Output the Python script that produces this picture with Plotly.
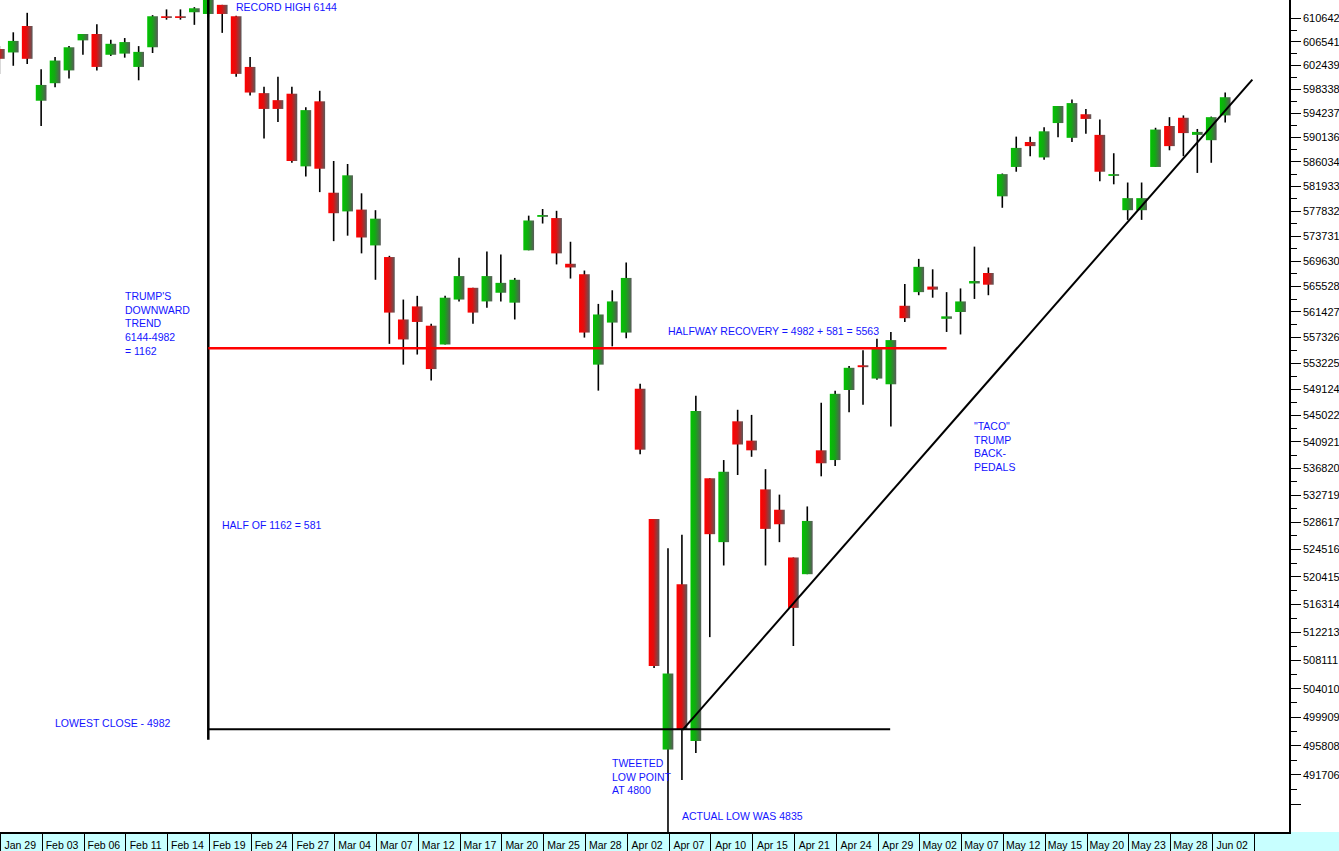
import math
import plotly.graph_objects as go

# ---------------- data ----------------
dates = ["Jan 29","Jan 30","Jan 31","Feb 03","Feb 04","Feb 05","Feb 06","Feb 07","Feb 10","Feb 11",
         "Feb 12","Feb 13","Feb 14","Feb 17","Feb 18","Feb 19","Feb 20","Feb 21","Feb 24","Feb 25",
         "Feb 26","Feb 27","Feb 28","Mar 03","Mar 04","Mar 05","Mar 06","Mar 07","Mar 10","Mar 11",
         "Mar 12","Mar 13","Mar 14","Mar 17","Mar 18","Mar 19","Mar 20","Mar 21","Mar 24","Mar 25",
         "Mar 26","Mar 27","Mar 28","Mar 31","Apr 01","Apr 02","Apr 03","Apr 04","Apr 07","Apr 08",
         "Apr 09","Apr 10","Apr 11","Apr 14","Apr 15","Apr 16","Apr 17","Apr 21","Apr 22","Apr 23",
         "Apr 24","Apr 25","Apr 28","Apr 29","Apr 30","May 01","May 02","May 05","May 06","May 07",
         "May 08","May 09","May 12","May 13","May 14","May 15","May 16","May 19","May 20","May 21",
         "May 22","May 23","May 26","May 27","May 28","May 29","May 30","Jun 02","Jun 03"]

opens = [6053,6047,6093,5964,5994,6016,6068,6079,6043,6045,
         6022,6056,6110,6110,6117,6114,6130,6110,6022,5977,
         5965,5976,5853,5963,5809,5778,5781,5722,5703,5602,
         5623,5592,5562,5634,5653,5631,5645,5629,5714,5769,
         5767,5692,5675,5530,5597,5581,5492,5291,4953,5193,
         4965,5353,5256,5441,5411,5336,5305,5233,5208,5396,
         5381,5490,5529,5508,5499,5624,5646,5655,5603,5614,
         5660,5677,5803,5852,5894,5868,5926,5901,5941,5906,
         5837,5780,5780,5852,5921,5935,5906,5897,5939]
highs = [6058,6082,6116,6018,6039,6058,6079,6096,6069,6072,
         6058,6112,6122,6122,6126,6147,6130,6111,6039,5988,
         6005,5988,5953,5981,5862,5857,5808,5780,5705,5634,
         5640,5595,5640,5702,5653,5712,5707,5669,5771,5782,
         5779,5728,5681,5627,5649,5694,5500,5291,5247,5267,
         5481,5353,5381,5459,5451,5367,5328,5233,5310,5470,
         5489,5528,5553,5571,5582,5659,5700,5683,5646,5652,
         5720,5686,5841,5903,5903,5919,5955,5966,5950,5932,
         5875,5826,5826,5918,5936,5939,5916,5937,5978]
lows = [6010,6024,6027,5921,5987,6002,6043,6016,6041,6038,
        5999,6046,6104,6104,6095,6108,6081,6005,5973,5900,
        5928,5859,5836,5810,5729,5738,5709,5666,5563,5530,
        5546,5505,5562,5631,5595,5621,5631,5602,5714,5758,
        5691,5668,5573,5489,5559,5572,5390,5070,4835,4910,
        4948,5115,5221,5358,5386,5221,5256,5102,5208,5356,
        5372,5455,5467,5506,5433,5598,5641,5637,5582,5578,
        5635,5641,5784,5844,5870,5864,5902,5894,5908,5828,
        5823,5764,5764,5852,5880,5870,5842,5859,5927]
closes = [6036,6067,6036,5991,6033,6056,6079,6022,6062,6065,
          6048,6110,6107,6107,6124,6144,6114,6010,5978,5950,
          5950,5862,5948,5849,5775,5838,5735,5766,5613,5570,
          5598,5523,5637,5672,5613,5672,5661,5666,5763,5772,
          5709,5686,5581,5610,5631,5669,5397,5073,5062,4982,
          5457,5268,5363,5405,5396,5276,5283,5158,5288,5376,
          5484,5525,5526,5558,5569,5604,5687,5650,5607,5631,
          5664,5658,5840,5884,5887,5912,5955,5960,5933,5844,
          5840,5800,5800,5915,5887,5909,5911,5936,5970]

y_tick_text = ["610642","606541","602439","598338","594237","590136","586034","581933",
               "577832","573731","569630","565528","561427","557326","553225","549124",
               "545022","540921","536820","532719","528617","524516","520415","516314",
               "512213","508111","504010","499909","495808","491706"]
y_extra_tick = 4876.05          # unlabeled tick below the last label

record_high_idx = 15            # Feb 19 record high 6144
vline_bottom = 4967
lowest_close = 4982
lowest_close_end_idx = 63.95
halfway_level = 5556            # drawn "halfway recovery" line
halfway_end_idx = 68.0
trend_x = [49.05, 89.95]
trend_y = [4981, 6000]

# ---------------- layout constants ----------------
W, H = 1339, 851
PLOT_W, PLOT_H = 1289, 832
X0_PX, PITCH = -0.65, 13.93           # pixel of bar 0 centre, pixel per bar
P_REF, Y_REF, K = 6106.42, 18.3, 3493.0
p_top = P_REF * math.exp(Y_REF / K)
p_bot = P_REF * math.exp(-(PLOT_H - Y_REF) / K)
x_lo = (0 - X0_PX) / PITCH
x_hi = (PLOT_W - X0_PX) / PITCH
HW = 0.385

FONT = "Liberation Sans, Arial, Helvetica, sans-serif"
TXT = "#1414ff"

n = len(dates)
xs = list(range(n))

fig = go.Figure()

# wicks
wx, wy = [], []
for i in xs:
    wx += [i, i, None]
    wy += [lows[i], highs[i], None]
fig.add_trace(go.Scatter(x=wx, y=wy, mode="lines", line=dict(color="black", width=1.6),
                         hoverinfo="skip", showlegend=False))

green_scale = [[0, "#00c400"], [0.45, "#14a814"], [1, "#5a5a5a"]]
red_scale = [[0, "#ff0000"], [0.45, "#e01010"], [1, "#5a5a5a"]]
for i in xs:
    o, c = opens[i], closes[i]
    lo, hi = min(o, c), max(o, c)
    up = c >= o
    fig.add_trace(go.Scatter(
        x=[i - HW, i + HW, i + HW, i - HW, i - HW],
        y=[lo, lo, hi, hi, lo],
        mode="lines", line=dict(width=0), fill="toself",
        fillgradient=dict(type="horizontal", colorscale=green_scale if up else red_scale),
        hoverinfo="skip", showlegend=False))

# annotation lines
fig.add_trace(go.Scatter(x=[record_high_idx, record_high_idx], y=[vline_bottom, p_top * 1.02],
                         mode="lines", line=dict(color="black", width=2.5),
                         hoverinfo="skip", showlegend=False))
fig.add_trace(go.Scatter(x=[record_high_idx, lowest_close_end_idx], y=[lowest_close, lowest_close],
                         mode="lines", line=dict(color="black", width=2),
                         hoverinfo="skip", showlegend=False))
fig.add_trace(go.Scatter(x=[record_high_idx, halfway_end_idx], y=[halfway_level, halfway_level],
                         mode="lines", line=dict(color="#ff0000", width=2.5),
                         hoverinfo="skip", showlegend=False))
fig.add_trace(go.Scatter(x=trend_x, y=trend_y, mode="lines", line=dict(color="black", width=2),
                         hoverinfo="skip", showlegend=False))

# text annotations (pixel positions -> paper coords)
def ann(text, px, py, size=10.5):
    fig.add_annotation(text=text, x=(px - 2) / PLOT_W, y=1 - py / PLOT_H,
                       xref="paper", yref="paper", xanchor="left", yanchor="middle",
                       align="left", showarrow=False,
                       font=dict(family=FONT, size=size, color=TXT))

ann("RECORD HIGH 6144", 236, 7)
ann("TRUMP'S<br>DOWNWARD<br>TREND<br>6144-4982<br>= 1162", 125, 323)
ann("HALF OF 1162 = 581", 222, 525)
ann("LOWEST CLOSE - 4982", 55, 723)
ann("HALFWAY RECOVERY = 4982 + 581 = 5563", 668, 331)
ann("TWEETED<br>LOW POINT<br>AT 4800", 612, 776)
ann("ACTUAL LOW WAS 4835", 682, 816)
ann("\"TACO\"<br>TRUMP<br>BACK-<br>PEDALS", 974, 446)

# bottom date strip background
fig.add_shape(type="rect", xref="paper", yref="paper", x0=0, x1=W / PLOT_W,
              y0=-(H - PLOT_H) / PLOT_H, y1=0, fillcolor="#c8ffff",
              line=dict(width=0), layer="below")

# axes ticks
label_idx = list(range(0, n, 3))
x_labels = [dates[i] for i in label_idx]
y_major_vals = [int(t) / 100 for t in y_tick_text] + [y_extra_tick]
y_major_text = y_tick_text + [""]
sorted_major = sorted(y_major_vals)
y_minor_vals = [(a + b) / 2 for a, b in zip(sorted_major[:-1], sorted_major[1:])]

fig.update_layout(
    width=W, height=H,
    margin=dict(l=0, r=W - PLOT_W, t=0, b=H - PLOT_H),
    paper_bgcolor="white", plot_bgcolor="white",
    showlegend=False,
    font=dict(family=FONT, color="black"),
    xaxis=dict(
        range=[x_lo, x_hi], showgrid=False, zeroline=False,
        showline=True, linecolor="black", linewidth=2,
        tickmode="array", tickvals=[i + 1.5 for i in label_idx], ticktext=x_labels,
        ticks="", tickfont=dict(family=FONT, size=10.5, color="black"),
        ticklabelstandoff=2,
        minor=dict(tickmode="array", tickvals=[i + 0.08 for i in label_idx] + [label_idx[-1] + 3.08],
                   ticks="outside", ticklen=H - PLOT_H, tickwidth=1, tickcolor="black",
                   showgrid=False),
        fixedrange=True,
    ),
    yaxis=dict(
        type="log", side="right",
        range=[math.log10(p_bot), math.log10(p_top)],
        showgrid=False, zeroline=False,
        showline=True, linecolor="black", linewidth=1.5,
        tickmode="array", tickvals=y_major_vals, ticktext=y_major_text,
        ticks="outside", ticklen=10, tickwidth=1, tickcolor="black",
        tickfont=dict(family=FONT, size=11, color="black"),
        minor=dict(tickmode="array", tickvals=y_minor_vals, ticks="outside",
                   ticklen=6, tickwidth=1, tickcolor="black", showgrid=False),
        fixedrange=True,
    ),
)

fig.write_html("out.html", post_script="document.body.style.margin='0px';",
               config={"displayModeBar": False})
